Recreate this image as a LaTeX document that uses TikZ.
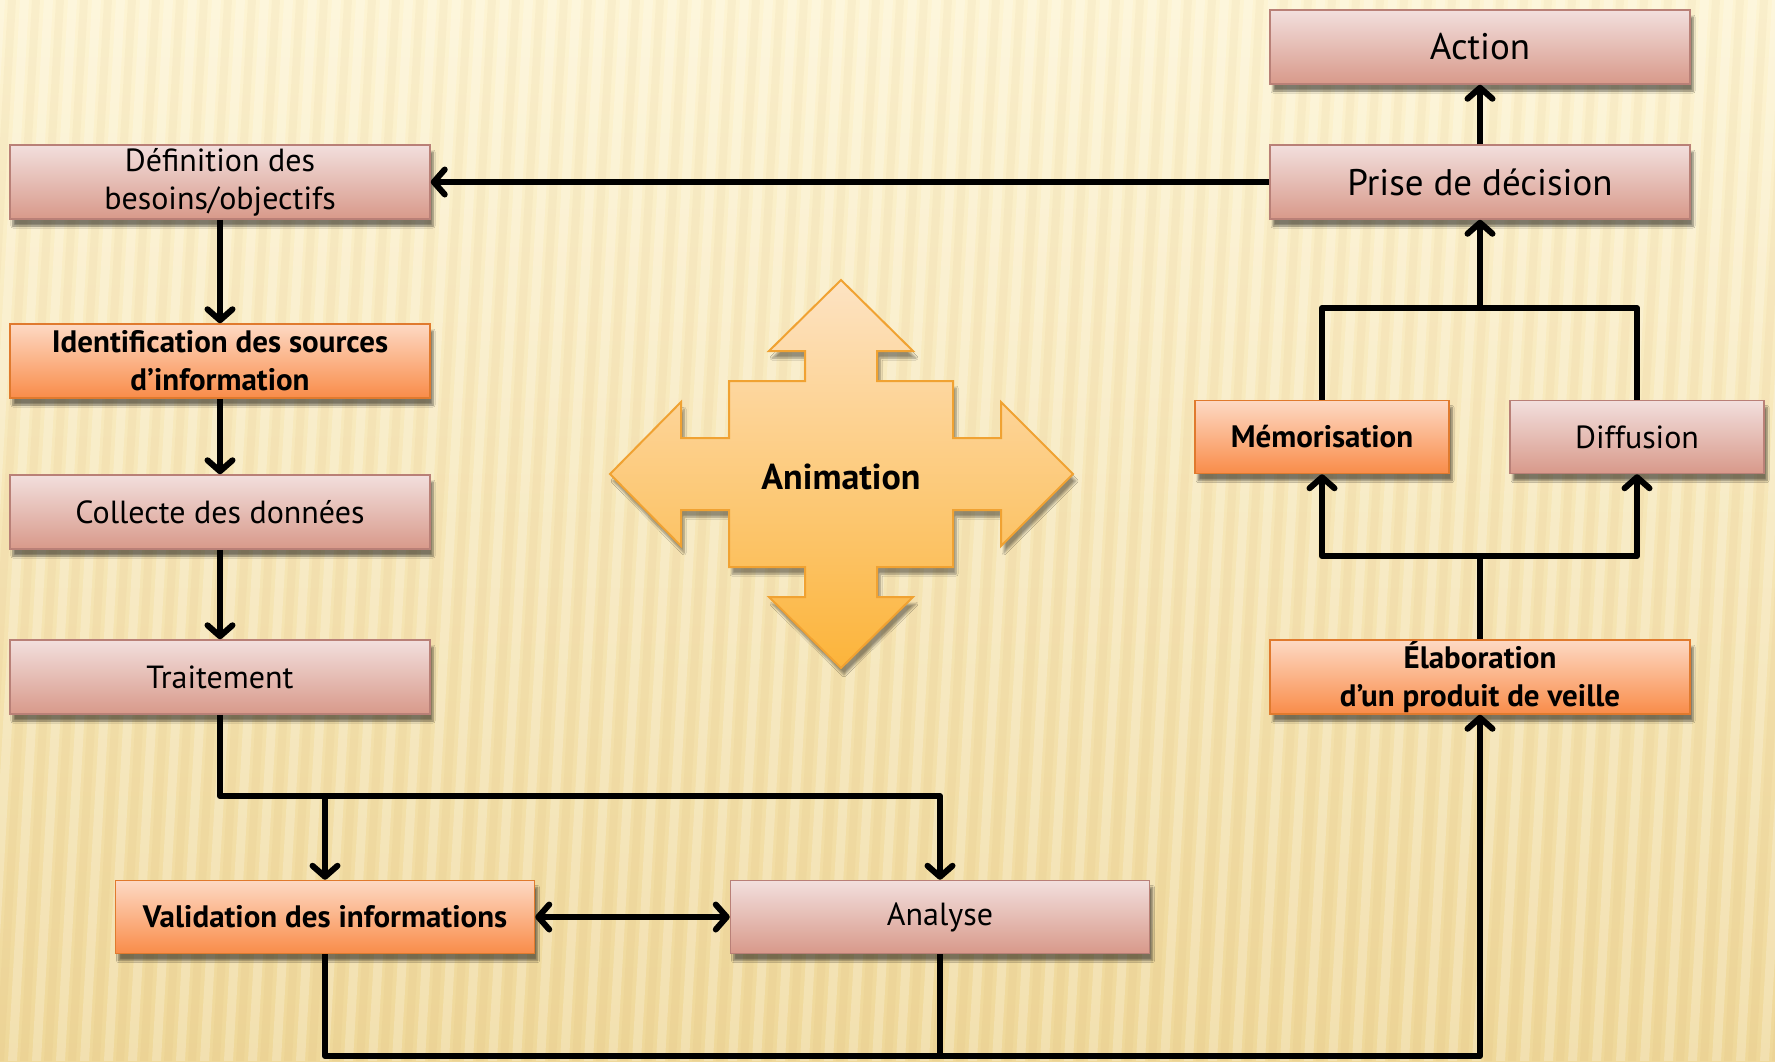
\documentclass[tikz,border=0pt]{standalone}
\usepackage{fontspec}
\setmainfont{PT Sans}
\usetikzlibrary{arrows.meta,shadows.blur}
\definecolor{pinkT}{HTML}{F2DFDD}
\definecolor{pinkB}{HTML}{D8998A}
\definecolor{pinkD}{HTML}{B98077}
\definecolor{orT}{HTML}{FDD9C4}
\definecolor{orB}{HTML}{F98C49}
\definecolor{orD}{HTML}{E07A2E}
\definecolor{anT}{HTML}{FDE3C3}
\definecolor{anB}{HTML}{FCB43A}
\definecolor{anD}{HTML}{F0A232}
\definecolor{bgT}{HTML}{FDF4D3}
\definecolor{bgM}{HTML}{FBECBA}
\definecolor{bgB}{HTML}{EFD89A}
\begin{document}
\begin{tikzpicture}[x=1pt,y=-1pt,
 box/.style={draw, line width=1.5pt, minimum width=420pt, minimum height=74pt, align=center, inner sep=0pt,
   blur shadow={shadow xshift=3pt, shadow yshift=-7pt, shadow opacity=50, shadow blur steps=6}},
 pinkbox/.style={box, draw=pinkD, top color=pinkT, bottom color=pinkB, font=\fontsize{32}{38}\selectfont},
 orbox/.style={box, draw=orD, top color=orT, bottom color=orB, font=\fontsize{31}{38}\selectfont\bfseries},
 conn/.style={line width=6pt, line join=round},
 arr/.style={conn, -{Straight Barb[length=11pt,width=25pt,round]}},
 darr/.style={conn, {Straight Barb[length=11pt,width=25pt,round]}-{Straight Barb[length=11pt,width=25pt,round]}}
]
\useasboundingbox (0,0) rectangle (1775,1061);
\begin{scope}
\clip (0,0) rectangle (1775,1061);
\shade[top color=bgT, middle color=bgM, bottom color=bgB] (0,0) rectangle (1775,1061);
\foreach \x in {-100,-76,...,1900} {
  \fill[white, opacity=0.22] (\x,0) -- ++(9,0) -- ++(-60,1061) -- ++(-9,0) -- cycle;
  \fill[brown, opacity=0.05] (\x+12,0) -- ++(8,0) -- ++(-60,1061) -- ++(-8,0) -- cycle;
}
\end{scope}

% nodes
\node[pinkbox] (def) at (220,182) {Définition des\\besoins/objectifs};
\node[orbox] (ident) at (220,361) {Identification des sources\\d’information};
\node[pinkbox] (coll) at (220,512) {Collecte des données};
\node[pinkbox] (trait) at (220,677) {Traitement};
\node[orbox, minimum width=419pt, minimum height=73pt] (valid) at (325,917) {Validation des informations};
\node[pinkbox, minimum width=419pt, minimum height=73pt] (anal) at (940,917) {Analyse};
\node[pinkbox, font=\fontsize{37}{44}\selectfont] (action) at (1480,47) {Action};
\node[pinkbox, font=\fontsize{37}{44}\selectfont] (prise) at (1480,182) {Prise de décision};
\node[orbox, minimum width=254pt, minimum height=73pt] (memo) at (1322,437) {Mémorisation};
\node[pinkbox, minimum width=254pt, minimum height=73pt] (diff) at (1637,437) {Diffusion};
\node[orbox] (elab) at (1480,677) {Élaboration\\d’un produit de veille};

% animation shape
\begin{scope}[shift={(841,474)}]
\path[fill=anB, draw=anD, line width=2pt, top color=anT, bottom color=anB,
  blur shadow={shadow xshift=3pt, shadow yshift=-7pt, shadow opacity=40, shadow blur steps=6}]
 (0,-194) -- (72,-123) -- (36,-123) -- (36,-93) -- (112,-93) -- (112,-36) -- (160,-36) -- (160,-72)
 -- (232,0) -- (160,72) -- (160,36) -- (112,36) -- (112,93) -- (36,93) -- (36,123) -- (72,123)
 -- (0,194) -- (-72,123) -- (-36,123) -- (-36,93) -- (-112,93) -- (-112,36) -- (-160,36) -- (-160,72)
 -- (-231,0) -- (-160,-72) -- (-160,-36) -- (-112,-36) -- (-112,-93) -- (-36,-93) -- (-36,-123) -- (-72,-123) -- cycle;
\end{scope}
\node[font=\fontsize{36}{42}\selectfont\bfseries] (anim) at (841,477) {Animation};

% coordinates
\coordinate (j1) at (220,796);
\coordinate (j2) at (325,1056);
\coordinate (j3) at (1480,556);
\coordinate (j4) at (1480,308);

% connectors
\draw[arr] (prise.west) -- (def.east);
\draw[arr] (def.south) -- (ident.north);
\draw[arr] (ident.south) -- (coll.north);
\draw[arr] (coll.south) -- (trait.north);
\draw[arr] (trait.south) -- (j1) -| (anal.north);
\draw[arr] (valid.north |- j1) -- (valid.north);
\draw[darr] (valid.east) -- (anal.west);
\draw[arr] (valid.south) -- (j2) -| (elab.south);
\draw[conn] (anal.south) -- (anal.south |- j2);
\draw[arr] (elab.north) -- (j3) -| (memo.south);
\draw[arr] (j3) -| (diff.south);
\draw[conn] (memo.north) -- (memo.north |- j4) -| (diff.north);
\draw[arr] (j4) -- (prise.south);
\draw[arr] (prise.north) -- (action.south);
\end{tikzpicture}
\end{document}
